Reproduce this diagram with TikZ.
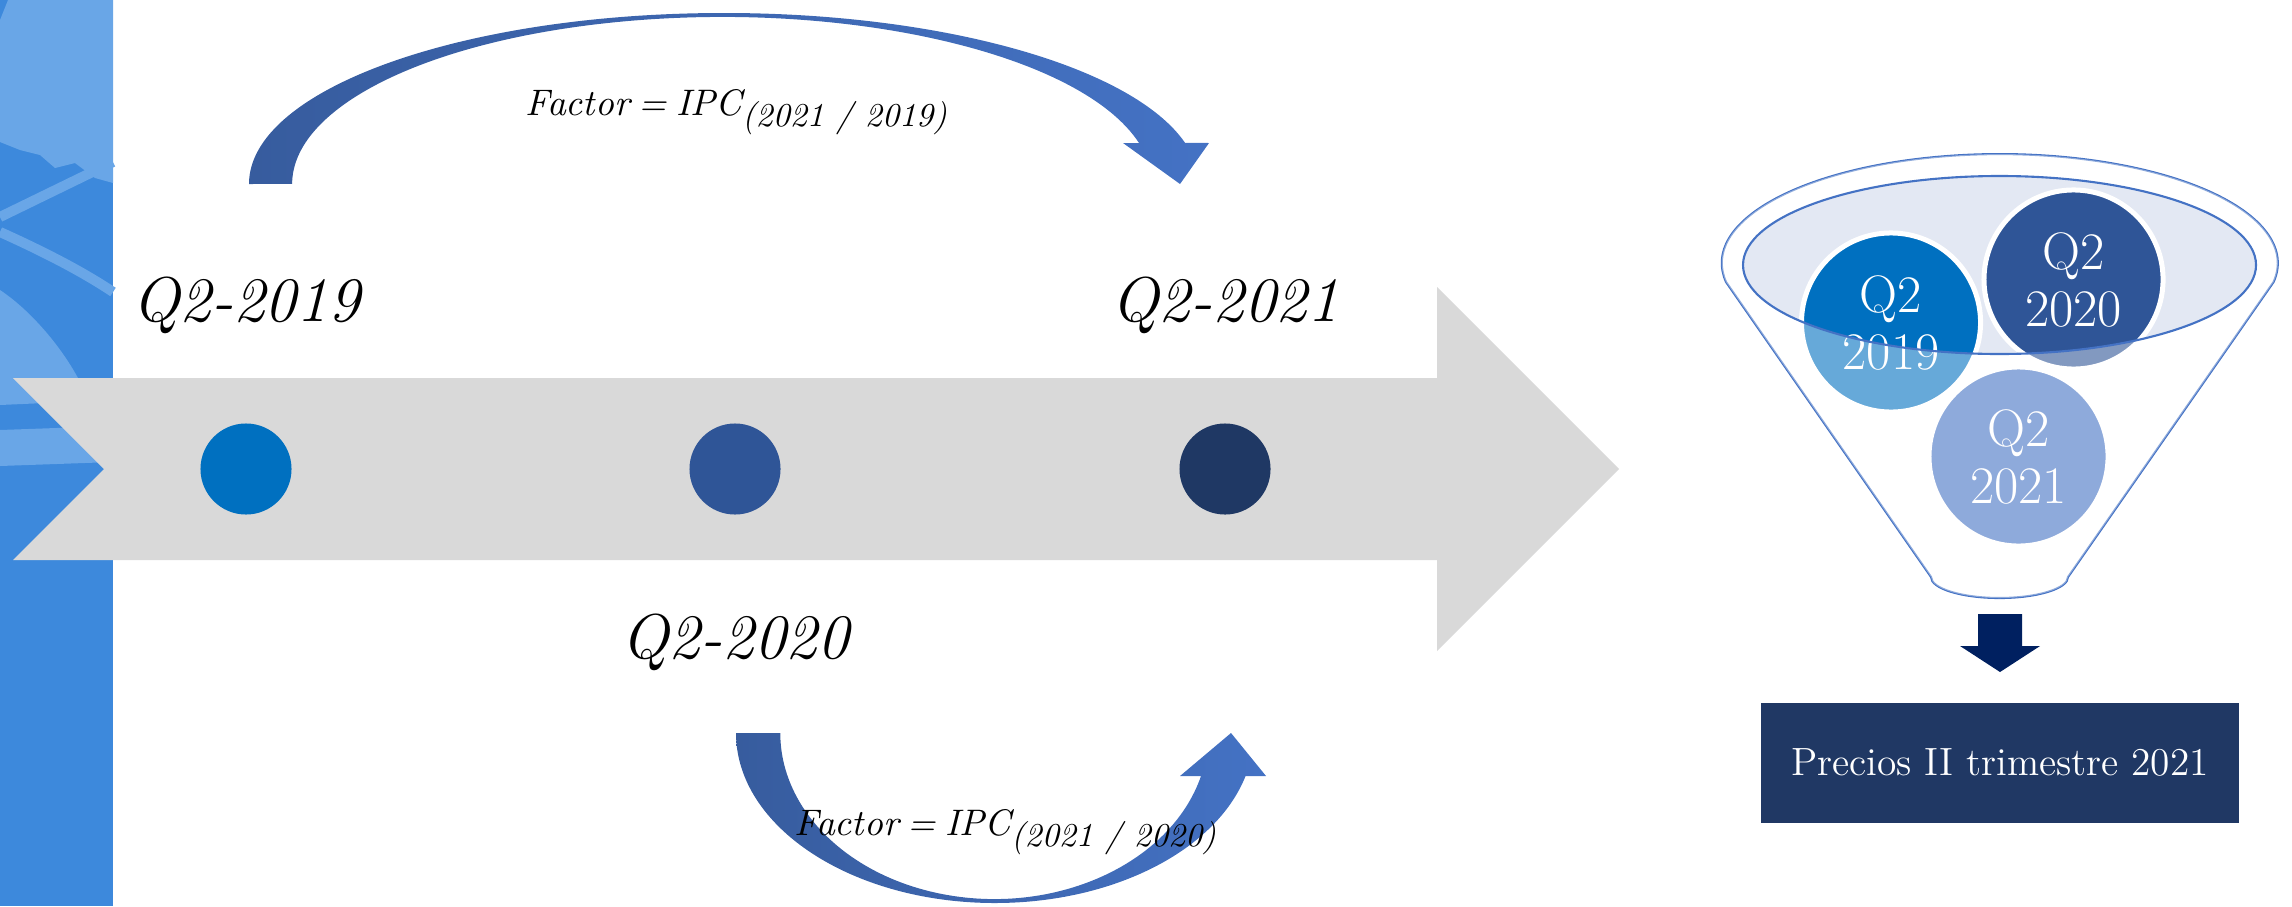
\documentclass[tikz,border=0pt]{standalone}
\usepackage{tikz}
\usetikzlibrary{positioning}
\definecolor{bandblue}{HTML}{3D89DC}
\definecolor{globeblue}{HTML}{69A6E7}
\definecolor{greyarrow}{HTML}{D9D9D9}
\definecolor{q19}{HTML}{0070C0}
\definecolor{q20}{HTML}{2F5597}
\definecolor{q21}{HTML}{1F3864}
\definecolor{q21light}{HTML}{4472C4}
\definecolor{curveL}{HTML}{375C9E}
\definecolor{curveR}{HTML}{4472C4}
\definecolor{mouth}{HTML}{E3E8F3}
\definecolor{navy}{HTML}{002060}
\definecolor{resfill}{HTML}{203864}
\newcommand{\subyears}[1]{\textsubscript{\fontsize{9.5}{10}\selectfont #1}}
\newcommand{\eqsp}{\hspace{0.25em}=\hspace{0.25em}}

\begin{document}
\begin{tikzpicture}[x=0.01cm, y=-0.01cm,
    dotmark/.style={circle, minimum size=0.91cm, inner sep=0},
    yearlbl/.style={font=\fontsize{18}{20}\selectfont\itshape, inner sep=0},
    factorlbl/.style={font=\fontsize{10.5}{13}\selectfont\itshape, anchor=base west, inner sep=0},
    qball/.style={circle, draw=white, line width=0.05cm, minimum size=1.79cm, inner sep=0,
        text=white, align=center, font=\fontsize{15}{16.2}\selectfont},
    curvearrow/.style={left color=curveL, right color=curveR},
    funnelline/.style={draw=curveR, line width=0.6pt},
    resbox/.style={fill=resfill, text=white, minimum width=4.77cm, minimum height=1.2cm,
        font=\fontsize{11.2}{13}\selectfont}]
    \useasboundingbox (0,0) rectangle (2292,906);

    \fill[bandblue] (0,0) rectangle (113,906);
    \fill[globeblue] (8,0) -- (113,0) -- (113,183) -- (95,178) -- (75,163) -- (55,168) -- (40,155)
        -- (20,150) -- (0,142) -- (0,20) -- cycle;
    \draw[globeblue, line width=0.1cm] (0,217) -- (113,162);
    \draw[globeblue, line width=0.1cm] (0,232) .. controls (40,250) and (80,270) .. (113,292);
    \fill[globeblue] (0,290) .. controls (30,310) and (60,345) .. (78,378) -- (113,400) -- (0,405) -- cycle;
    \fill[globeblue] (0,430) -- (113,426) -- (113,462) -- (0,466) -- cycle;

    \fill[greyarrow] (13,378) -- (1437,378) -- (1437,287) -- (1619,469) -- (1437,651)
        -- (1437,560) -- (13,560) -- (104,469) -- cycle;

    \node [dotmark, fill=q19] (d19) at (246,469) {};
    \node [dotmark, fill=q20] (d20) at (735,469) {};
    \node [dotmark, fill=q21] (d21) at (1225,469) {};
    \node [yearlbl, above=0.88cm of d19] (l19) {Q2-2019};
    \node [yearlbl, above=0.88cm of d21] (l21) {Q2-2021};
    \node [yearlbl, below=0.98cm of d20] (l20) {Q2-2020};

    \shade[curvearrow] (249,184) arc[start angle=180, end angle=346.1, x radius=475, y radius=171]
        -- (1209,143) -- (1180,184) -- (1123,143) -- (1139,143)
        arc[start angle=345.8, end angle=180, x radius=430, y radius=167] -- cycle;
    \shade[curvearrow] (736,733) arc[start angle=180, end angle=14.65, x radius=259, y radius=170]
        -- (1266,776) -- (1231,733) -- (1180,776) -- (1201,776)
        arc[start angle=15, end angle=180, x radius=214, y radius=166] -- cycle;
    \node [factorlbl] (f19) at (525,115) {Factor\eqsp IPC\subyears{(2021 / 2019)}};
    \node [factorlbl] (f20) at (794,835) {Factor\eqsp IPC\subyears{(2021 / 2020)}};

    \draw[funnelline, fill=white] (1931,577) -- (1726,282)
        arc[start angle=170, end angle=370, x radius=278, y radius=109] -- (2068,577)
        arc[start angle=0, end angle=180, x radius=68.5, y radius=21] -- cycle;
    \fill[mouth] (1999.5,265) ellipse [x radius=256.5, y radius=89];
    \node [qball, fill=q19] (b19) at (1891,322.5) {Q2\\2019};
    \node [qball, fill=q20] (b20) at (2073.5,279.5) {Q2\\2020};
    \node [qball, fill=q21light] (b21) at (2018.5,456.5) {Q2\\2021};
    \fill[white, opacity=0.4, even odd rule] (1931,577) -- (1726,282)
        arc[start angle=170, end angle=370, x radius=278, y radius=109] -- (2068,577)
        arc[start angle=0, end angle=180, x radius=68.5, y radius=21] -- cycle
        (1999.5,265) ellipse [x radius=256.5, y radius=89];
    \draw[funnelline] (1999.5,265) ellipse [x radius=256.5, y radius=89];

    \fill[navy] (1978,614) -- (2022,614) -- (2022,646) -- (2040,646) -- (2000,672)
        -- (1960,646) -- (1978,646) -- cycle;
    \coordinate (tip) at (2000,672);
    \node [resbox, below=0.3cm of tip] (res) {Precios II trimestre 2021};
\end{tikzpicture}
\end{document}
